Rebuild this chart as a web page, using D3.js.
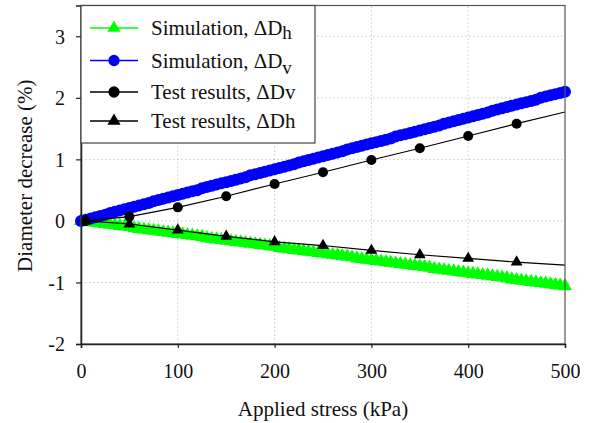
<!DOCTYPE html>
<html>
<head>
<meta charset="utf-8">
<script src="https://cdn.jsdelivr.net/npm/d3@7"></script>
<style>
  html, body { margin: 0; padding: 0; background: #fff; }
  svg { display: block; font-family: "Liberation Serif", "Times New Roman", serif; }
</style>
</head>
<body>
<svg id="chart" width="590" height="423"></svg>
<script>
// Simulation sampling grid (kPa)
const simStress = [
  0, 5, 10, 15, 20, 25, 30, 35, 40, 45, 50, 55, 60, 65, 70, 75, 80, 85, 90, 95,
  100, 105, 110, 115, 120, 125, 130, 135, 140, 145, 150, 155, 160, 165, 170, 175, 180, 185, 190, 195,
  200, 205, 210, 215, 220, 225, 230, 235, 240, 245, 250, 255, 260, 265, 270, 275, 280, 285, 290, 295,
  300, 305, 310, 315, 320, 325, 330, 335, 340, 345, 350, 355, 360, 365, 370, 375, 380, 385, 390, 395,
  400, 405, 410, 415, 420, 425, 430, 435, 440, 445, 450, 455, 460, 465, 470, 475, 480, 485, 490, 495, 500
];
// Simulated horizontal diameter decrease (%)
const simDh = [
  0, -0.01, -0.02, -0.03, -0.04, -0.05, -0.06, -0.07, -0.08, -0.09,
  -0.10, -0.12, -0.13, -0.14, -0.15, -0.16, -0.17, -0.18, -0.19, -0.20,
  -0.21, -0.22, -0.23, -0.24, -0.25, -0.26, -0.28, -0.29, -0.30, -0.31,
  -0.32, -0.33, -0.34, -0.35, -0.36, -0.37, -0.38, -0.39, -0.40, -0.41,
  -0.42, -0.44, -0.45, -0.46, -0.47, -0.48, -0.49, -0.50, -0.51, -0.52,
  -0.53, -0.54, -0.55, -0.56, -0.57, -0.58, -0.59, -0.61, -0.62, -0.63,
  -0.64, -0.65, -0.66, -0.67, -0.68, -0.69, -0.70, -0.71, -0.72, -0.73,
  -0.74, -0.75, -0.76, -0.78, -0.79, -0.80, -0.81, -0.82, -0.83, -0.84,
  -0.85, -0.86, -0.87, -0.88, -0.89, -0.90, -0.91, -0.92, -0.93, -0.95,
  -0.96, -0.97, -0.98, -0.99, -1.00, -1.01, -1.02, -1.03, -1.04, -1.05, -1.06
];
// Simulated vertical diameter decrease (%)
const simDv = [
  0, 0.02, 0.04, 0.06, 0.08, 0.10, 0.13, 0.15, 0.17, 0.19,
  0.21, 0.23, 0.25, 0.27, 0.29, 0.32, 0.34, 0.36, 0.38, 0.40,
  0.42, 0.44, 0.46, 0.48, 0.50, 0.53, 0.55, 0.57, 0.59, 0.61,
  0.63, 0.65, 0.67, 0.69, 0.71, 0.74, 0.76, 0.78, 0.80, 0.82,
  0.84, 0.86, 0.88, 0.90, 0.92, 0.95, 0.97, 0.99, 1.01, 1.03,
  1.05, 1.07, 1.09, 1.11, 1.13, 1.16, 1.18, 1.20, 1.22, 1.24,
  1.26, 1.28, 1.30, 1.32, 1.34, 1.37, 1.39, 1.41, 1.43, 1.45,
  1.47, 1.49, 1.51, 1.53, 1.55, 1.58, 1.60, 1.62, 1.64, 1.66,
  1.68, 1.70, 1.72, 1.74, 1.76, 1.79, 1.81, 1.83, 1.85, 1.87,
  1.89, 1.91, 1.93, 1.95, 1.97, 2.00, 2.02, 2.04, 2.06, 2.08, 2.10
];
// Test measurements (kPa, %) — last stress is the end of the trend line
const testStress = [5, 50, 100, 150, 200, 250, 300, 350, 400, 450, 500];
const testDv = [0, 0.07, 0.22, 0.40, 0.60, 0.79, 0.99, 1.18, 1.38, 1.58, 1.77];
const testDh = [0, -0.05, -0.15, -0.25, -0.34, -0.40, -0.48, -0.55, -0.61, -0.67, -0.72];
const testMarkerCount = 10;

const xTicks = [0, 100, 200, 300, 400, 500];
const yTicks = [-2, -1, 0, 1, 2, 3];

const legendItems = [
  { label: "Simulation, \u0394D", sub: "h", subDy: 4, color: "#00ff00", symbol: d3.symbolTriangle },
  { label: "Simulation, \u0394D", sub: "v", subDy: 6, color: "#0000ff", symbol: d3.symbolCircle },
  { label: "Test results, \u0394Dv", sub: null, color: "#000", symbol: d3.symbolCircle },
  { label: "Test results, \u0394Dh", sub: null, color: "#000", symbol: d3.symbolTriangle }
];

const svg = d3.select("#chart");
const margin = { left: 81, right: 25, top: 5.5, bottom: 79 };
const W = 590, H = 423;
const x = d3.scaleLinear().domain([0, 500]).range([margin.left, W - margin.right]);
const y = d3.scaleLinear().domain([-2, 3.5]).range([H - margin.bottom, margin.top]);

// dotted grid
const grid = svg.append("g");
grid.selectAll("line.gx").data(xTicks.filter(v => v > 0 && v < 500)).join("line")
  .attr("x1", d => x(d)).attr("x2", d => x(d))
  .attr("y1", y(-2)).attr("y2", y(3.5))
  .attr("stroke", "#c8c8c8").attr("stroke-width", 1).attr("stroke-dasharray", "1.5,2.5");
grid.selectAll("line.gy").data(yTicks.filter(v => v > -2)).join("line")
  .attr("x1", x(0)).attr("x2", x(500))
  .attr("y1", d => y(d)).attr("y2", d => y(d))
  .attr("stroke", "#c8c8c8").attr("stroke-width", 1).attr("stroke-dasharray", "1.5,2.5");

const plot = svg.append("g");
const line = d3.line().x(d => x(d[0])).y(d => y(d[1]));

// simulation: horizontal (green triangles)
const simH = simStress.map((s, i) => [s, simDh[i]]);
plot.append("path").datum(simH)
  .attr("d", line).attr("fill", "none").attr("stroke", "#00ff00").attr("stroke-width", 1.5);
plot.selectAll("path.sh").data(simH).join("path")
  .attr("transform", d => `translate(${x(d[0])},${y(d[1])})`)
  .attr("d", d3.symbol(d3.symbolTriangle, 85)())
  .attr("fill", "#00ff00");

// simulation: vertical (blue circles)
const simV = simStress.map((s, i) => [s, simDv[i]]);
plot.append("path").datum(simV)
  .attr("d", line).attr("fill", "none").attr("stroke", "#0000ff").attr("stroke-width", 1.5);
plot.selectAll("circle.sv").data(simV).join("circle")
  .attr("cx", d => x(d[0])).attr("cy", d => y(d[1])).attr("r", 6)
  .attr("fill", "#0000ff");

// test results
const tv = testStress.map((s, i) => [s, testDv[i]]);
const th = testStress.map((s, i) => [s, testDh[i]]);
plot.append("path").datum(tv).attr("d", line).attr("fill", "none").attr("stroke", "#000").attr("stroke-width", 1.2);
plot.append("path").datum(th).attr("d", line).attr("fill", "none").attr("stroke", "#000").attr("stroke-width", 1.2);
plot.selectAll("circle.tv").data(tv.slice(0, testMarkerCount)).join("circle")
  .attr("cx", d => x(d[0])).attr("cy", d => y(d[1])).attr("r", 5)
  .attr("fill", "#000");
plot.selectAll("path.th").data(th.slice(0, testMarkerCount)).join("path")
  .attr("transform", d => `translate(${x(d[0])},${y(d[1])})`)
  .attr("d", d3.symbol(d3.symbolTriangle, 60)())
  .attr("fill", "#000");

// frame
svg.append("rect")
  .attr("x", x(0)).attr("y", y(3.5))
  .attr("width", x(500) - x(0)).attr("height", y(-2) - y(3.5))
  .attr("fill", "none").attr("stroke", "#555").attr("stroke-width", 1.2);

// axes
const fmt = d => String(d);
const xAxis = svg.append("g").attr("transform", `translate(0,${y(-2)})`)
  .call(d3.axisBottom(x).tickValues(xTicks).tickSize(4).tickPadding(16).tickFormat(fmt));
const yAxis = svg.append("g").attr("transform", `translate(${x(0)},0)`)
  .call(d3.axisLeft(y).tickValues(yTicks).tickSize(5).tickPadding(11).tickFormat(fmt));
[xAxis, yAxis].forEach(a => {
  a.select(".domain").attr("stroke", "#222").attr("stroke-width", 1.5);
  a.selectAll(".tick line").attr("stroke", "#222").attr("stroke-width", 1.2);
  a.selectAll(".tick text").attr("font-family", "Liberation Serif, serif")
    .attr("font-size", 20).attr("fill", "#111");
});
yAxis.selectAll(".tick text").attr("dy", "0.34em");

// axis titles
svg.append("text")
  .attr("x", (x(0) + x(500)) / 2).attr("y", 416)
  .attr("text-anchor", "middle").attr("font-size", 21).attr("fill", "#111")
  .text("Applied stress (kPa)");
svg.append("text")
  .attr("transform", `translate(32,${(y(-2) + y(3.5)) / 2 + 1}) rotate(-90)`)
  .attr("text-anchor", "middle").attr("font-size", 21).attr("fill", "#111")
  .text("Diameter decrease (%)");

// legend
const lg = svg.append("g");
lg.append("rect")
  .attr("x", x(0)).attr("y", y(3.5))
  .attr("width", 234).attr("height", 137.5)
  .attr("fill", "#fff").attr("stroke", "#444").attr("stroke-width", 1.2);
const rowY = [28, 60.5, 92, 121];
legendItems.forEach((it, i) => {
  const g = lg.append("g").attr("transform", `translate(0,${rowY[i]})`);
  g.append("line").attr("x1", 90).attr("x2", 138).attr("y1", 0).attr("y2", 0)
    .attr("stroke", it.color).attr("stroke-width", 1.5);
  g.append("path").attr("transform", "translate(114,0)")
    .attr("d", d3.symbol(it.symbol, it.symbol === d3.symbolCircle ? 100 : 75)())
    .attr("fill", it.color);
  const t = g.append("text").attr("x", 151).attr("y", 7)
    .attr("font-size", 21).attr("fill", "#111").text(it.label);
  if (it.sub) t.append("tspan").attr("dy", it.subDy).attr("font-size", 19).text(it.sub);
});
</script>
</body>
</html>
